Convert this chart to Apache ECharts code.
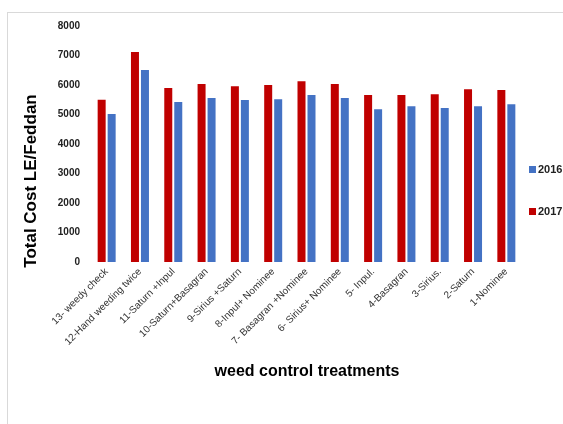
<!DOCTYPE html>
<html><head><meta charset="utf-8">
<script src="https://cdn.jsdelivr.net/npm/echarts@6/dist/echarts.min.js"></script>
<style>html,body{margin:0;padding:0;background:#fff}#c{width:563px;height:424px}
#frame{position:absolute;left:7px;top:12px;width:600px;height:500px;border-left:1px solid #d9d9d9;border-top:1px solid #d9d9d9;pointer-events:none}</style>
</head><body><div id="c"></div><div id="frame"></div>
<script>
const categories = ['13- weedy check','12-Hand weeding twice','11-Saturn +Inpul','10-Saturn+Basagran','9-Sirius +Saturn','8-Inpul+ Nominee','7- Basagran +Nominee','6- Sirius+ Nominee','5- Inpul.','4-Basagran','3-Sirius.','2-Saturn','1-Nominee'];
const values2017 = [5500,7120,5900,6030,5960,6000,6130,6030,5660,5660,5690,5860,5830];
const values2016 = [5020,6510,5420,5560,5490,5520,5660,5560,5180,5280,5220,5280,5350];
const yTicks = [0,1000,2000,3000,4000,5000,6000,7000,8000];

const chart = echarts.init(document.getElementById('c'));
chart.setOption({
  animation:false,
  grid:{left:90,right:40,top:26,bottom:162},
  legend:{orient:'vertical',left:524,top:159,itemGap:31,itemWidth:7,itemHeight:7,icon:'rect',
    data:['2016','2017'],textStyle:{fontSize:11,fontWeight:'bold',color:'#222',fontFamily:'Liberation Sans',padding:[0,0,0,-3]}},
  xAxis:{type:'category',data:categories,
    axisLine:{show:false},axisTick:{show:false},
    axisLabel:{rotate:45,interval:0,fontSize:10,color:'#333',fontFamily:'Liberation Sans',margin:8}},
  yAxis:{type:'value',min:yTicks[0],max:yTicks[yTicks.length-1],interval:1000,
    splitLine:{show:false},axisLine:{show:false},
    axisLabel:{fontSize:10,fontWeight:'bold',color:'#222',fontFamily:'Liberation Sans',margin:10,formatter:v=>String(v)}},
  series:[
    {name:'2017',type:'bar',data:values2017,barWidth:8,barGap:'25%',itemStyle:{color:'#C00000'}},
    {name:'2016',type:'bar',data:values2016,barWidth:8,itemStyle:{color:'#4472C4'}}
  ],
  graphic:[
    {type:'text',x:31,y:181,rotation:Math.PI/2,style:{text:'Total Cost LE/Feddan',font:'bold 17px Liberation Sans',fill:'#000',align:'center',verticalAlign:'middle'}},
    {type:'text',x:307,y:372,style:{text:'weed control treatments',font:'bold 16px Liberation Sans',fill:'#000',align:'center',verticalAlign:'middle'}}
  ]
});
</script></body></html>
